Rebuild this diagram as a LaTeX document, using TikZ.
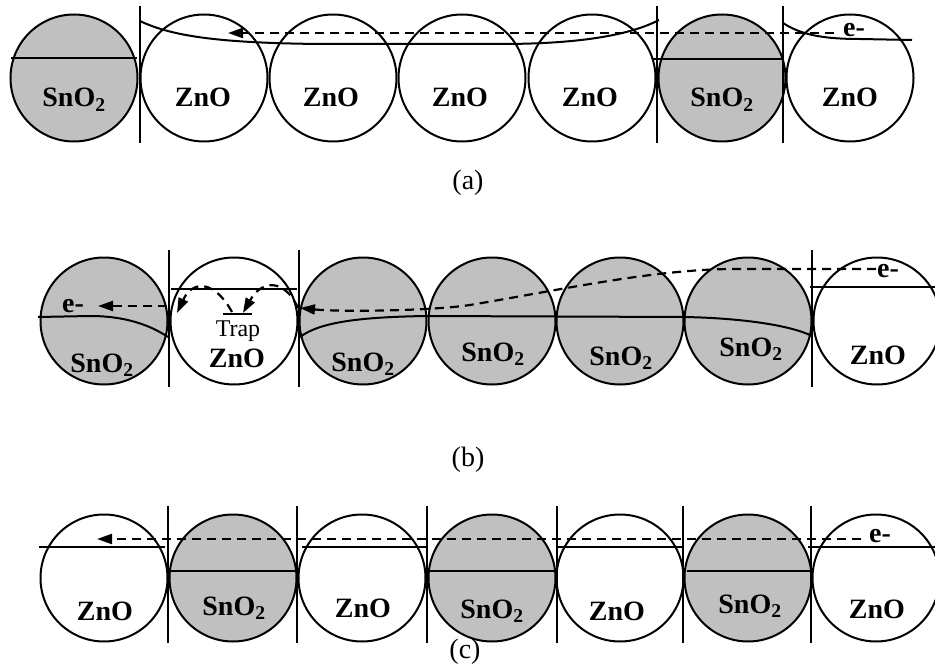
\documentclass[tikz,border=0pt]{standalone}
\usepackage{fontspec}
\setmainfont{Liberation Serif}
\usetikzlibrary{arrows.meta}
\definecolor{sngray}{RGB}{192,192,192}
\begin{document}
\begin{tikzpicture}[x=1pt,y=-1pt,
  grain/.style={circle, draw, line width=2pt, minimum size=127pt, inner sep=0pt},
  sno/.style={grain, fill=sngray},
  zno/.style={grain, fill=white},
  lbl/.style={font=\fontsize{28}{32}\selectfont\bfseries, anchor=base, inner sep=0pt},
  traplbl/.style={font=\fontsize{24}{28}\selectfont, anchor=base, inner sep=0pt},
  panel/.style={font=\fontsize{28}{32}\selectfont, inner sep=0pt},
  wall/.style={line width=2pt},
  band/.style={line width=2pt},
  flow/.style={line width=2.2pt, dash pattern=on 9pt off 6pt,
    -{Triangle[length=15pt,width=10pt]}},
]
\useasboundingbox (0,0) rectangle (935,666);

% ---------------- (a) ----------------
\node[sno] (a1) at (74,78) {};
\node[zno] (a2) at (204,78) {};
\node[zno] (a3) at (333,78) {};
\node[zno] (a4) at (462,78) {};
\node[zno] (a5) at (592,78) {};
\node[sno] (a6) at (722,78) {};
\node[zno] (a7) at (850,78) {};

\draw[wall] (140,6) -- (140,143);
\draw[wall] (657,6) -- (657,143);
\draw[wall] (783,6) -- (783,143);

\draw[band] (11,58) -- (137,58);
\draw[band] (652,59) -- (783,59);
\draw[band] (140,21) .. controls (175,38) and (230,43) .. (320,44)
  -- (500,44) .. controls (580,44) and (630,35) .. (659,20);
\draw[band] (783,23) .. controls (800,34) and (820,39) .. (860,39) -- (912,40);

\node[lbl] (ea) at (854,37) {e-};
\coordinate (ta) at (228,33);
\coordinate (sa) at (834,33);
\draw[flow] (sa) -- (ta);

\node[lbl] (la1) at (74,107) {SnO\textsubscript{2}};
\node[lbl] (la2) at (203,107) {ZnO};
\node[lbl] (la3) at (331,107) {ZnO};
\node[lbl] (la4) at (460,107) {ZnO};
\node[lbl] (la5) at (590,107) {ZnO};
\node[lbl] (la6) at (722,107) {SnO\textsubscript{2}};
\node[lbl] (la7) at (850,107) {ZnO};

\node[panel] (pa) at (468,183) {(a)};

% ---------------- (b) ----------------
\node[sno] (b1) at (104,321) {};
\node[zno] (b2) at (234,321) {};
\node[sno] (b3) at (363,321) {};
\node[sno] (b4) at (492,321) {};
\node[sno] (b5) at (620,321) {};
\node[sno] (b6) at (748,321) {};
\node[zno] (b7) at (877,321) {};

\draw[wall] (169,250) -- (169,387);
\draw[wall] (299,250) -- (299,387);
\draw[wall] (812,250) -- (812,387);

\draw[band] (38,317) -- (90,316) .. controls (125,316) and (150,325) .. (168,337);
\draw[band] (171,289) -- (297,289);
\draw[band] (300,337) .. controls (320,322) and (360,317) .. (427,316)
  -- (684,317) .. controls (740,318) and (790,325) .. (812,336);
\draw[band] (810,287) -- (935,287);

% trap level and hops
\draw[band] (223,314) -- (252,314);
\node[traplbl] (trap) at (238,336) {Trap};
\coordinate (h1s) at (232,312);
\coordinate (h1e) at (177,313);
\coordinate (h2s) at (298,308);
\coordinate (h2e) at (243,313);
\draw[flow] (h1s) .. controls (215,281) and (193,279) .. (h1e);
\draw[flow] (h2s) .. controls (285,279) and (262,279) .. (h2e);

\node[lbl] (eb) at (888,277) {e-};
\coordinate (sb) at (876,269);
\coordinate (tb) at (300,308);
\draw[flow] (sb) -- (730,269) .. controls (650,270) and (560,290) .. (470,305)
  .. controls (430,311) and (340,312) .. (tb);

\node[lbl] (eb1) at (73,312) {e-};
\coordinate (sb1) at (167,306);
\coordinate (tb1) at (98,306);
\draw[flow] (sb1) -- (tb1);

\node[lbl] (lb1) at (102,372) {SnO\textsubscript{2}};
\node[lbl] (lb2) at (237,367) {ZnO};
\node[lbl] (lb3) at (363,371) {SnO\textsubscript{2}};
\node[lbl] (lb4) at (493,361) {SnO\textsubscript{2}};
\node[lbl] (lb5) at (621,365) {SnO\textsubscript{2}};
\node[lbl] (lb6) at (751,356) {SnO\textsubscript{2}};
\node[lbl] (lb7) at (878,364) {ZnO};

\node[panel] (pb) at (468,460) {(b)};

% ---------------- (c) ----------------
\node[zno] (c1) at (104,578) {};
\node[sno] (c2) at (233,578) {};
\node[zno] (c3) at (362,578) {};
\node[sno] (c4) at (492,578) {};
\node[zno] (c5) at (620,578) {};
\node[sno] (c6) at (748,578) {};
\node[zno] (c7) at (876,578) {};

\foreach \wx in {168,297,427,557,683,811}
  \draw[wall] (\wx,506) -- (\wx,643);

\draw[band] (39,547) -- (165,547);
\draw[band] (302,547) -- (427,547);
\draw[band] (558,547) -- (683,547);
\draw[band] (808,547) -- (935,547);
\draw[band] (170,571) -- (297,571);
\draw[band] (428,571) -- (555,571);
\draw[band] (687,571) -- (811,571);

\node[lbl] (ec) at (880,542) {e-};
\coordinate (sc) at (861,539);
\coordinate (tc) at (97,539);
\draw[flow] (sc) -- (tc);

\node[lbl] (lc1) at (105,620) {ZnO};
\node[lbl] (lc2) at (234,615) {SnO\textsubscript{2}};
\node[lbl] (lc3) at (363,617) {ZnO};
\node[lbl] (lc4) at (492,618) {SnO\textsubscript{2}};
\node[lbl] (lc5) at (617,620) {ZnO};
\node[lbl] (lc6) at (750,613) {SnO\textsubscript{2}};
\node[lbl] (lc7) at (877,618) {ZnO};

\node[panel] (pc) at (465,652) {(c)};
\end{tikzpicture}
\end{document}
